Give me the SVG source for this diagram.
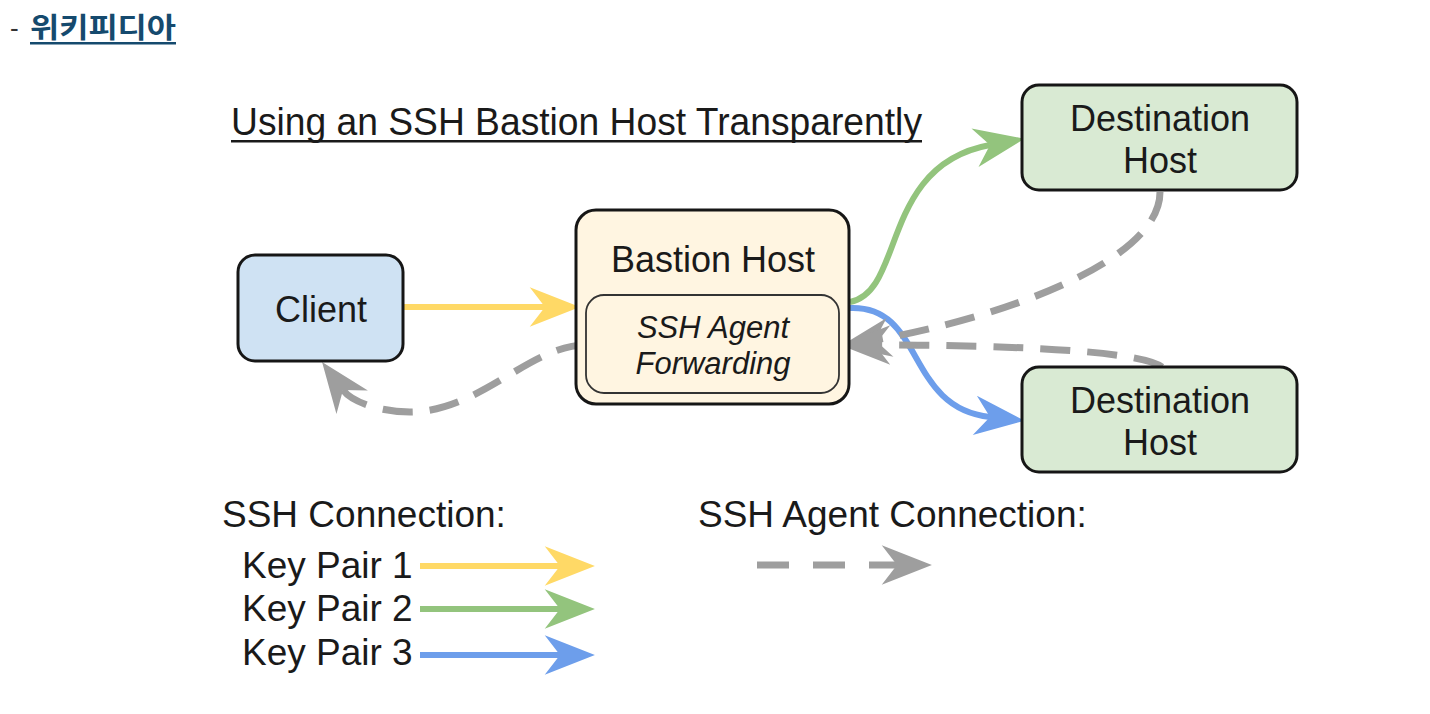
<svg xmlns="http://www.w3.org/2000/svg" width="1430" height="714" viewBox="0 0 1430 714">
<style>
.t{font-family:"Liberation Sans",Arial,sans-serif;fill:#1a1a1a}
.c{text-anchor:middle}
.node{stroke:#161616;stroke-width:3}
.ssh{fill:none;stroke-width:6}
.agent{fill:none;stroke:#9e9e9e;stroke-width:7;stroke-dasharray:30 17}
</style>
<defs>
<marker id="hy" markerUnits="userSpaceOnUse" markerWidth="60" markerHeight="60" viewBox="-20 -20 55 40" refX="0" refY="0" orient="auto"><path d="M32,0 L-14,-18 L0,0 L-14,18 Z" fill="#ffd966"/></marker>
<marker id="hg" markerUnits="userSpaceOnUse" markerWidth="60" markerHeight="60" viewBox="-20 -20 55 40" refX="0" refY="0" orient="auto"><path d="M32,0 L-14,-18 L0,0 L-14,18 Z" fill="#93c47d"/></marker>
<marker id="hb" markerUnits="userSpaceOnUse" markerWidth="60" markerHeight="60" viewBox="-20 -20 55 40" refX="0" refY="0" orient="auto"><path d="M32,0 L-14,-18 L0,0 L-14,18 Z" fill="#6d9eeb"/></marker>
<marker id="hx" markerUnits="userSpaceOnUse" markerWidth="60" markerHeight="60" viewBox="-20 -20 55 40" refX="0" refY="0" orient="auto"><path d="M32,0 L-14,-18 L0,0 L-14,18 Z" fill="#9e9e9e"/></marker>
</defs>
<rect width="1430" height="714" fill="#ffffff"/>
<g id="header">
<text x="10" y="37" font-family="Liberation Sans,sans-serif" font-size="26" fill="#333">-</text>
<text x="30" y="38" font-family="Noto Sans CJK KR,sans-serif" font-weight="bold" font-size="28" fill="#154a6e" textLength="146" lengthAdjust="spacingAndGlyphs">위키피디아</text>
<rect x="30" y="42" width="146" height="2.5" fill="#154a6e"/>
</g>
<g id="title">
<text class="t" x="231" y="135" font-size="38" textLength="691" lengthAdjust="spacingAndGlyphs">Using an SSH Bastion Host Transparently</text>
<rect x="231" y="140" width="691" height="2.5" fill="#1a1a1a"/>
</g>
<g id="connectors">
<path class="ssh" d="M403,307 L545,307" stroke="#ffd966" marker-end="url(#hy)"/>
<path class="ssh" d="M850,302 C905,292 880,165 990,145" stroke="#93c47d" marker-end="url(#hg)"/>
<path class="ssh" d="M850,308 C925,305 905,408 990,417" stroke="#6d9eeb" marker-end="url(#hb)"/>
<path class="agent" d="M1160,192 C1160,262 1000,318 875,340" marker-end="url(#hx)"/>
<path class="agent" d="M1162,367 C1140,350 1000,345 875,345" marker-end="url(#hx)"/>
<path class="agent" d="M586,345 C530,345 480,412 410,412 C380,412 352,402 343,390" marker-end="url(#hx)"/>
</g>
<g id="client">
<rect class="node" x="238" y="255" width="165" height="106" rx="17" fill="#cfe2f3"/>
<text class="t c" x="321" y="322" font-size="36">Client</text>
</g>
<g id="bastion">
<rect class="node" x="576" y="210" width="273" height="194" rx="20" fill="#fff5e1"/>
<text class="t c" x="713" y="272" font-size="36">Bastion Host</text>
<g id="agent-forwarding">
<rect x="586" y="295" width="253" height="98" rx="18" fill="#fff5e1" stroke="#333" stroke-width="1.8"/>
<text class="t c" x="713" y="338" font-size="31" font-style="italic">SSH Agent</text>
<text class="t c" x="713" y="374" font-size="31" font-style="italic">Forwarding</text>
</g>
</g>
<g id="dest1">
<rect class="node" x="1022" y="85" width="275" height="105" rx="17" fill="#d9ead3"/>
<text class="t c" x="1160" y="131" font-size="36">Destination</text>
<text class="t c" x="1160" y="173" font-size="36">Host</text>
</g>
<g id="dest2">
<rect class="node" x="1022" y="367" width="275" height="105" rx="17" fill="#d9ead3"/>
<text class="t c" x="1160" y="413" font-size="36">Destination</text>
<text class="t c" x="1160" y="455" font-size="36">Host</text>
</g>
<g id="legend">
<text class="t" x="222" y="527" font-size="37">SSH Connection:</text>
<text class="t" x="242" y="578" font-size="37">Key Pair 1</text>
<text class="t" x="242" y="621" font-size="37">Key Pair 2</text>
<text class="t" x="242" y="665" font-size="37">Key Pair 3</text>
<path class="ssh" d="M420,566 L560,566" stroke="#ffd966" marker-end="url(#hy)"/>
<path class="ssh" d="M420,609 L560,609" stroke="#93c47d" marker-end="url(#hg)"/>
<path class="ssh" d="M420,655 L560,655" stroke="#6d9eeb" marker-end="url(#hb)"/>
<text class="t" x="698" y="527" font-size="37">SSH Agent Connection:</text>
<path d="M757,565 L897,565" fill="none" stroke="#9e9e9e" stroke-width="7" stroke-dasharray="32 24" marker-end="url(#hx)"/>
</g>
</svg>
